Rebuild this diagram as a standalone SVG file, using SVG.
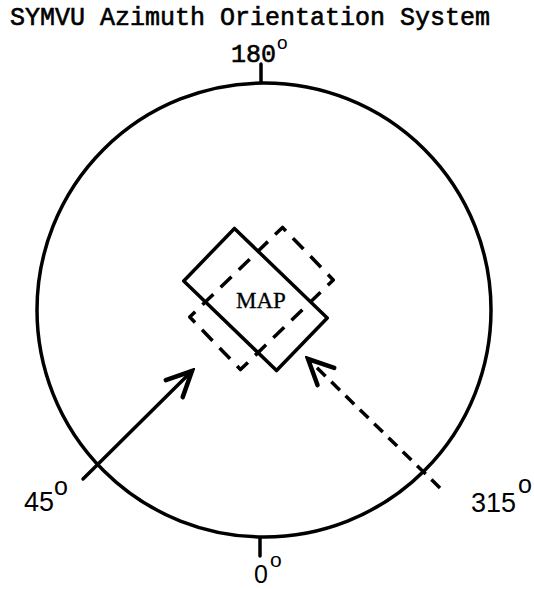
<svg xmlns="http://www.w3.org/2000/svg" width="534" height="589" viewBox="0 0 534 589">
  <style>
    .ln { fill: none; stroke: #000; stroke-width: 3.5; stroke-linecap: round; stroke-linejoin: round; }
    .arrow { fill: none; stroke: #000; stroke-width: 3.5; stroke-linecap: round; }
    .dash { stroke-dasharray: 12 8; stroke-linecap: butt; }
    .rdash { stroke-dasharray: 0.6 0.4; stroke-dashoffset: 0.3; stroke-linecap: butt; }
    .mono { font-family: "Liberation Mono", "Courier New", monospace; font-size: 25px; fill: #000; stroke: #000; stroke-width: 0.6; }
    .sans { font-family: "Liberation Sans", Arial, sans-serif; font-size: 27px; fill: #000; }
    .serif { font-family: "Liberation Serif", "Times New Roman", serif; font-size: 23px; fill: #000; stroke: #000; stroke-width: 0.3; }
    .sup { font-family: "Liberation Sans", Arial, sans-serif; font-size: 25px; stroke: none; }
  </style>
  <defs>
    <marker id="head" markerUnits="userSpaceOnUse" viewBox="-32 -16 36 32" markerWidth="36" markerHeight="32" refX="0" refY="0" orient="auto">
      <path d="M-25,-12 L0,0 L-25,12" fill="none" stroke="#000" stroke-width="4.5" stroke-linecap="round" stroke-linejoin="miter"/>
    </marker>
  </defs>

  <text id="title" class="mono" x="10" y="25">SYMVU Azimuth Orientation System</text>

  <g id="dial">
    <circle class="ln" cx="264" cy="310" r="227"/>
    <line class="ln" x1="261" y1="64" x2="261" y2="82"/>
    <line class="ln" x1="260" y1="538" x2="260" y2="556"/>
  </g>

  <g id="label-180">
    <text class="mono" x="231" y="62">180<tspan class="sup" style="font-size:19px" x="277" y="49">o</tspan></text>
  </g>
  <g id="label-0">
    <text class="sans" style="font-size:25px" x="254" y="583">0<tspan class="sup" style="font-size:21px" x="270" y="567">o</tspan></text>
  </g>
  <g id="label-45">
    <text class="sans" x="24" y="511">45<tspan class="sup" x="54" y="495">o</tspan></text>
  </g>
  <g id="label-315">
    <text class="sans" x="471" y="512">315<tspan class="sup" x="518" y="493">o</tspan></text>
  </g>

  <g id="map-rotated">
    <path class="ln rdash" pathLength="16" d="M-64.5,-36.5 H64.5 V36.5 H-64.5 Z" transform="translate(261.5 298.5) rotate(-44)"/>
  </g>
  <g id="map">
    <rect class="ln" x="-64.5" y="-36.5" width="129" height="73" transform="translate(255.5 299.5) rotate(44)"/>
    <text class="serif" x="261" y="308" text-anchor="middle">MAP</text>
  </g>

  <g id="connectors">
    <line class="arrow" x1="83" y1="479" x2="192" y2="371" marker-end="url(#head)"/>
    <line class="arrow dash" x1="440" y1="488" x2="308" y2="359" marker-end="url(#head)"/>
  </g>
</svg>
